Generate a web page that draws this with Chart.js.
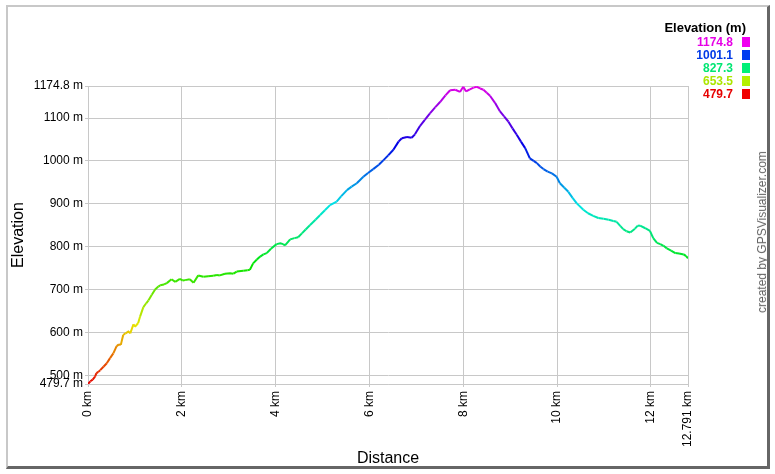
<!DOCTYPE html>
<html>
<head>
<meta charset="utf-8">
<script src="https://cdn.jsdelivr.net/npm/chart.js@4"></script>
<style>
  html, body { margin: 0; padding: 0; background: #fff; }
  body { width: 775px; height: 474px; position: relative; overflow: hidden; font-family: "Liberation Sans", Arial, sans-serif; }
  #frame { position: absolute; left: 6px; top: 5px; width: 759px; height: 459px;
           border-left: 2px solid #c8c8c8; border-top: 2px solid #c8c8c8;
           border-right: 3px solid #666; border-bottom: 3px solid #666; background: #fff; }
  #wrap { position: absolute; left: 0; top: 0; width: 775px; height: 474px; }
  .leg { position: absolute; right: 42px; font-weight: bold; font-size: 12px; line-height: 13px; text-align: right; }
  .sw { position: absolute; left: 742px; width: 8px; height: 10px; }
  #legtitle { position: absolute; right: 29px; top: 20px; font-weight: bold; font-size: 13px; line-height: 15px; color: #000; }
  #credit { position: absolute; left: 762px; top: 232px; transform: translate(-50%, -50%) rotate(-90deg);
            white-space: nowrap; font-size: 12px; color: #666; }
</style>
</head>
<body>
<div id="frame"></div>
<div id="wrap"><canvas id="c" width="775" height="474"></canvas></div>
<div id="legtitle">Elevation (m)</div>
<div id="legend"></div>
<div id="credit">created by GPSVisualizer.com</div>
<script>
// ---- data ----
const distanceKm = [0.00,0.05,0.10,0.15,0.18,0.22,0.26,0.33,0.40,0.47,0.54,0.61,0.66,0.70,0.75,0.80,0.86,0.90,0.97,1.00,
  1.07,1.11,1.18,1.24,1.29,1.36,1.43,1.50,1.54,1.62,1.68,1.78,1.86,1.96,2.02,2.07,2.17,2.25,2.35,2.46,
  2.56,2.67,2.75,2.81,2.92,3.03,3.10,3.17,3.31,3.40,3.45,3.52,3.60,3.67,3.74,3.81,3.90,4.02,4.10,4.16,
  4.20,4.31,4.40,4.48,4.56,4.64,4.73,4.85,4.95,5.05,5.16,5.30,5.40,5.52,5.62,5.73,5.87,5.97,6.08,6.20,
  6.30,6.40,6.51,6.62,6.69,6.80,6.90,6.97,7.08,7.18,7.29,7.40,7.51,7.62,7.72,7.83,7.93,8.00,8.06,8.14,
  8.22,8.29,8.36,8.43,8.50,8.57,8.68,8.78,8.87,8.96,9.05,9.14,9.23,9.32,9.42,9.50,9.57,9.64,9.71,9.80,
  9.89,9.99,10.06,10.15,10.24,10.33,10.42,10.56,10.66,10.77,10.88,10.99,11.10,11.20,11.27,11.35,11.41,11.48,11.56,11.66,
  11.72,11.77,11.88,11.98,12.05,12.13,12.20,12.27,12.34,12.43,12.52,12.60,12.70,12.75,12.791];
const elevationM = [479.7,486,490,497,505,508,512,520,528,540,551,568,572,571,594,598,602,598,619,613,
  622,637,659,668,675,688,700,707,710,712,715,724,718,725,721,722,724,716,733,730,
  731,732,734,733,737,738,737,742,744,745,746,761,770,777,782,785,795,806,808,806,
  803,817,820,822,831,840,850,863,874,885,897,905,918,932,940,948,963,972,981,991,
  1002,1013,1026,1045,1053,1056,1054,1062,1082,1096,1111,1125,1138,1153,1165,1166,1161,1173,1162,1167,
  1171,1173,1169,1166,1159,1152,1135,1116,1104,1092,1076,1061,1045,1030,1006,1000,995,987,981,975,
  971,963,948,938,928,914,901,886,878,872,867,865,863,860,858,848,841,836,833,842,
  849,849,843,837,820,809,806,802,796,791,785,784,782,778,773];
const yTickValues = [479.7, 500, 600, 700, 800, 900, 1000, 1100, 1174.8];
const xTickValues = [0, 2, 4, 6, 8, 10, 12, 12.791];
const legendValues = [1174.8, 1001.1, 827.3, 653.5, 479.7];

const minE = 479.7, maxE = 1174.8;
function elevColor(e, light) {
  const t = Math.max(0, Math.min(1, (e - minE) / (maxE - minE)));
  return 'hsl(' + (t * 300).toFixed(1) + ',100%,' + (light || 45) + '%)';
}

// legend
const legDiv = document.getElementById('legend');
legendValues.forEach((v, i) => {
  const top = 36 + i * 13;
  const t = document.createElement('div');
  t.className = 'leg'; t.style.top = top + 'px'; t.style.color = elevColor(v, 45);
  t.textContent = v.toFixed(1);
  legDiv.appendChild(t);
  const s = document.createElement('div');
  s.className = 'sw'; s.style.top = (top + 1) + 'px'; s.style.background = elevColor(v, 47);
  legDiv.appendChild(s);
});

const pts = distanceKm.map((d, i) => ({ x: d, y: elevationM[i] }));
const font = { family: '"Liberation Sans", Arial, sans-serif', size: 12 };

new Chart(document.getElementById('c'), {
  type: 'line',
  data: { datasets: [{
    data: pts,
    borderWidth: 2,
    pointRadius: 0,
    tension: 0,
    borderColor: '#0c0',
    segment: { borderColor: ctx => elevColor((ctx.p0.parsed.y + ctx.p1.parsed.y) / 2) }
  }]},
  options: {
    responsive: false,
    animation: false,
    events: [],
    layout: { padding: { left: 7, top: 86, right: 87, bottom: 5 } },
    plugins: { legend: { display: false }, tooltip: { enabled: false } },
    scales: {
      x: {
        type: 'linear', min: 0, max: 12.791,
        afterBuildTicks: s => { s.ticks = xTickValues.map(v => ({ value: v })); },
        afterFit: s => { s.height = 85; },
        grid: { color: '#c8c8c8', tickLength: 3 },
        border: { color: '#c8c8c8' },
        ticks: { autoSkip: false, maxRotation: 90, minRotation: 90, padding: 4, color: '#000', font,
                 callback: v => v + ' km' },
        title: { display: true, text: 'Distance', color: '#000', padding: { top: 0, bottom: 1 },
                 font: { family: font.family, size: 16 } }
      },
      y: {
        type: 'linear', min: 479.7, max: 1174.8,
        afterBuildTicks: s => { s.ticks = yTickValues.map(v => ({ value: v })); },
        afterFit: s => { s.width = 81; },
        grid: { color: '#c8c8c8', tickLength: 3 },
        border: { color: '#c8c8c8' },
        ticks: { autoSkip: false, padding: 2, color: '#000', font,
                 callback: v => v + ' m' },
        title: { display: true, text: 'Elevation', color: '#000', padding: { top: 2, bottom: 0 },
                 font: { family: font.family, size: 16 } }
      }
    }
  }
});
</script>
</body>
</html>
